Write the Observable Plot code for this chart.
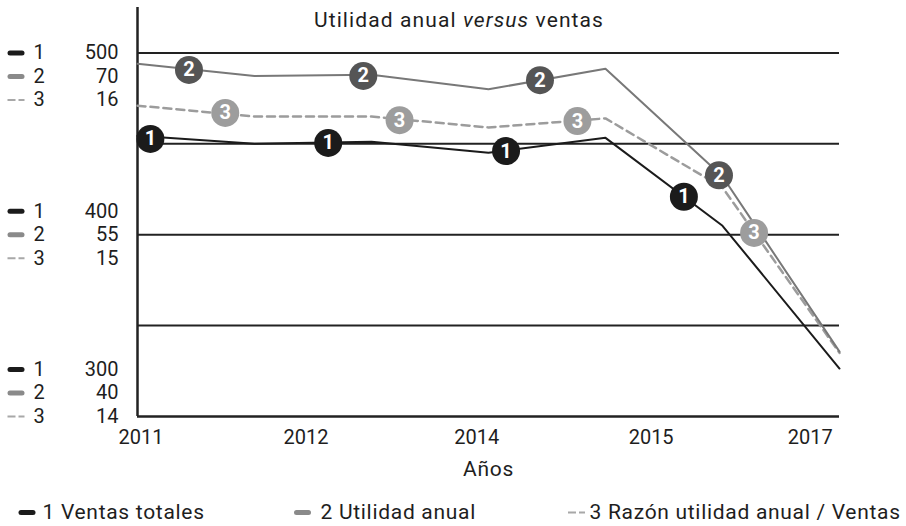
<!DOCTYPE html>
<html>
<head>
<meta charset="utf-8">
<script src="https://cdn.jsdelivr.net/npm/d3@7"></script>
<script src="https://cdn.jsdelivr.net/npm/@observablehq/plot@0.6"></script>
<style>
  html, body { margin: 0; padding: 0; background: #fff; }
  #wrap { position: relative; width: 906px; height: 526px; font-family: Roboto, "Noto Sans", sans-serif; color: #1e1e1e; }
  #title { position: absolute; left: 0; top: 10px; width: 918px; text-align: center; font-size: 21px; line-height: 21px; font-weight: 400; letter-spacing: 1.1px; white-space: nowrap; }
  #wrap svg { position: absolute; left: 0; top: 0; }
</style>
</head>
<body>
<div id="wrap"><div id="title">Utilidad anual <i>versus</i> ventas</div></div>
<script>
// ---- data (observation index 0..6) ----
const periods   = [0, 1, 2, 3, 4, 5, 6];
const ventas    = [454.4, 450.0, 451.1, 445.1, 453.3, 404.9, 326.4];   // series 1 units
const utilidad  = [69.1, 68.1, 68.2, 67.0, 68.7, 59.8, 45.35];         // series 2 units
const razon     = [15.71, 15.65, 15.65, 15.59, 15.64, 15.26, 14.35];   // series 3 units

// numbered markers along each line
const ventasMarkX   = [0.11, 1.63, 3.15, 4.67];
const ventasMarkV   = [452.7, 450.5, 446.0, 420.9];
const utilidadMarkX = [0.44, 1.93, 3.44, 4.97];
const utilidadMarkV = [68.6, 68.1, 67.75, 59.9];
const razonMarkX    = [0.75, 2.24, 3.76, 5.27];
const razonMarkV    = [15.67, 15.63, 15.625, 15.01];

// x tick labels
const xTickAt     = [0.03, 1.44, 2.9, 4.39, 5.75];
const xTickLabels = ["2011", "2012", "2014", "2015", "2017"];

// y ticks (stacked for the three series)
const axisTicks     = [500, 400, 300];
const ventasTicks   = ["500", "400", "300"];
const utilidadTicks = ["70", "55", "40"];
const razonTicks    = ["16", "15", "14"];
const gridValues    = [350, 400, 450, 500];

const seriesNums  = ["1", "2", "3"];
const legendNames = ["1 Ventas totales", "2 Utilidad anual", "3 Razón utilidad anual / Ventas"];

// ---- map each series onto the common (series 1) scale ----
const fromUtil  = v => 300 + (v - 40) * 200 / 30;
const fromRazon = v => 300 + (v - 14) * 100;

const C1 = "#1b1b1b", C2line = "#787878", C2dot = "#555555", C3line = "#9c9c9c", C3dot = "#9d9d9d";
const F = 20, FW = 400, TXT = "#1e1e1e";

const barSymbol  = { draw(ctx) { ctx.moveTo(-6, 0); ctx.lineTo(6, 0); } };
const dashSymbol = { draw(ctx) { ctx.moveTo(-8.5, 0); ctx.lineTo(-0.5, 0); ctx.moveTo(2.5, 0); ctx.lineTo(8.5, 0); } };
const swatch = [
  { symbol: barSymbol,  stroke: C1,        strokeWidth: 5, strokeLinecap: "round" },
  { symbol: barSymbol,  stroke: "#8a8a8a", strokeWidth: 5, strokeLinecap: "round" },
  { symbol: dashSymbol, stroke: "#a8a8a8", strokeWidth: 2, strokeLinecap: "butt" }
];

const marks = [
  Plot.ruleY(gridValues, { stroke: "#222", strokeWidth: 2 }),
  Plot.ruleY([300], { stroke: "#222", strokeWidth: 2.5 }),
  Plot.ruleX([0], { stroke: "#222", strokeWidth: 2.5 }),
  Plot.line(periods, { x: d => d, y: (d, i) => fromRazon(razon[i]), stroke: C3line, strokeWidth: 2.5, strokeDasharray: "8,5" }),
  Plot.line(periods, { x: d => d, y: (d, i) => fromUtil(utilidad[i]), stroke: C2line, strokeWidth: 2 }),
  Plot.line(periods, { x: d => d, y: (d, i) => ventas[i], stroke: C1, strokeWidth: 2 }),
];

const markerSets = [
  { xs: ventasMarkX, vs: ventasMarkV, f: v => v, fill: C1, label: "1" },
  { xs: utilidadMarkX, vs: utilidadMarkV, f: fromUtil, fill: C2dot, label: "2" },
  { xs: razonMarkX, vs: razonMarkV, f: fromRazon, fill: C3dot, label: "3" }
];
for (const m of markerSets) {
  marks.push(Plot.dot(m.xs, { x: d => d, y: (d, i) => m.f(m.vs[i]), r: 14, fill: m.fill, stroke: "none" }));
  marks.push(Plot.text(m.xs, { x: d => d, y: (d, i) => m.f(m.vs[i]), text: () => m.label, fill: "white", fontSize: 20, fontWeight: 700, lineAnchor: "middle" }));
}

// stacked left tick labels
const tickTexts = [ventasTicks, utilidadTicks, razonTicks];
for (let g = 0; g < axisTicks.length; g++) {
  for (let r = 0; r < 3; r++) {
    const dy = (r - g) * 23.5;
    marks.push(Plot.text([axisTicks[g]], { y: d => d, frameAnchor: "left", dx: -19, dy, text: () => tickTexts[r][g], textAnchor: "end", lineAnchor: "middle", fontSize: F, fontWeight: FW, fill: TXT }));
    marks.push(Plot.text([axisTicks[g]], { y: d => d, frameAnchor: "left", dx: -104, dy, text: () => seriesNums[r], textAnchor: "start", lineAnchor: "middle", fontSize: F, fontWeight: FW, fill: TXT }));
    marks.push(Plot.dot([axisTicks[g]], { y: d => d, frameAnchor: "left", dx: -121.5, dy, fill: "none", ...swatch[r] }));
  }
}

// x tick labels and axis label
marks.push(Plot.text(xTickAt, { x: d => d, frameAnchor: "bottom", dy: 21.5, text: (d, i) => xTickLabels[i], lineAnchor: "middle", fontSize: F, fontWeight: FW, fill: TXT }));
marks.push(Plot.text(["Años"], { frameAnchor: "bottom", dy: 53, text: d => d, lineAnchor: "middle", fontSize: 21, fontWeight: FW, fill: TXT }));

// bottom legend
const legSwatchDx = [-110.5, 165, 439];
const legTextDx   = [-95, 183, 452];
for (let r = 0; r < 3; r++) {
  marks.push(Plot.dot([r], { frameAnchor: "bottom-left", dx: legSwatchDx[r], dy: 96, fill: "none", ...swatch[r] }));
  marks.push(Plot.text([legendNames[r]], { frameAnchor: "bottom-left", dx: legTextDx[r], dy: 96, text: d => d, textAnchor: "start", lineAnchor: "middle", fontSize: 21, fontWeight: FW, fill: TXT }));
}

const chart = Plot.plot({
  width: 906,
  height: 526,
  marginLeft: 137,
  marginRight: 67,
  marginTop: 7,
  marginBottom: 110,
  style: { fontFamily: "Roboto, 'Noto Sans', sans-serif", background: "white", overflow: "visible" },
  x: { domain: [0, 6], axis: null },
  y: { domain: [300, 525], axis: null },
  marks
});
// slightly wider tracking for the word labels (legend), as in the reference
d3.select(chart).selectAll("text").filter(function () { return legendNames.includes(this.textContent) || this.textContent === "Años"; }).attr("letter-spacing", "0.7px");
document.getElementById("wrap").prepend(chart);
</script>
</body>
</html>
